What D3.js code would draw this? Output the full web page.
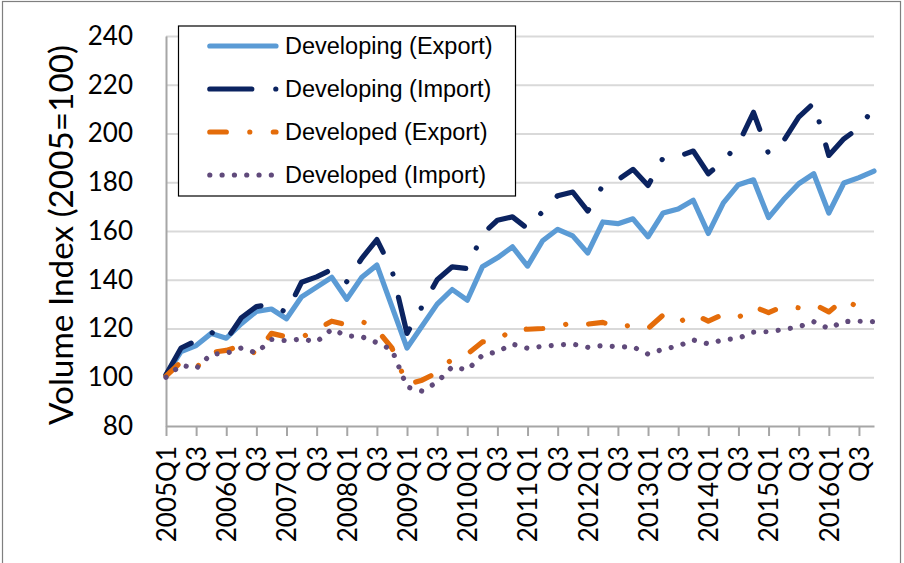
<!DOCTYPE html>
<html>
<head>
<meta charset="utf-8">
<script src="https://cdn.jsdelivr.net/npm/d3@7"></script>
<style>
  body { margin: 0; background: #fff; }
  svg { display: block; }
</style>
</head>
<body>
<div id="chart"></div>
<script>
// quarters on the category axis
var quarters = [
  "2005Q1","2005Q2","2005Q3","2005Q4","2006Q1","2006Q2","2006Q3","2006Q4",
  "2007Q1","2007Q2","2007Q3","2007Q4","2008Q1","2008Q2","2008Q3","2008Q4",
  "2009Q1","2009Q2","2009Q3","2009Q4","2010Q1","2010Q2","2010Q3","2010Q4",
  "2011Q1","2011Q2","2011Q3","2011Q4","2012Q1","2012Q2","2012Q3","2012Q4",
  "2013Q1","2013Q2","2013Q3","2013Q4","2014Q1","2014Q2","2014Q3","2014Q4",
  "2015Q1","2015Q2","2015Q3","2015Q4","2016Q1","2016Q2","2016Q3","2016Q4"
];

// labels shown under every second tick
var tickLabels = [
  "2005Q1","Q3","2006Q1","Q3","2007Q1","Q3","2008Q1","Q3",
  "2009Q1","Q3","2010Q1","Q3","2011Q1","Q3","2012Q1","Q3",
  "2013Q1","Q3","2014Q1","Q3","2015Q1","Q3","2016Q1","Q3"
];

var yTicks = [80, 100, 120, 140, 160, 180, 200, 220, 240];

var developingExport = [101, 110.5, 113, 118, 116, 122, 127, 128, 124, 133, 137, 141,
  132, 141, 146, 129, 112, 121, 130, 136, 131.6, 145.3, 149, 153.5,
  145.6, 156, 160.7, 158, 151, 163.7, 163, 165, 157.6, 167.4, 169, 172.6,
  159, 171.5, 179, 181, 165.5, 172.9, 179.4, 183.5, 167.4, 179.7, 181.9, 184.6];

var developingImport = [101, 112, 115, 118.5, 115.3, 124.4, 129, 130, 126.5, 139, 141.2, 144.2,
  139.2, 148.8, 156.5, 144, 118, 129, 140, 145.3, 144.6, 158.7, 164.4, 165.8,
  161, 168, 174.5, 176, 168.2, 178.7, 181, 185.3, 178.7, 190, 190.6, 192.8,
  183.5, 188.7, 195.8, 208.7, 191.7, 197, 206.7, 212.5, 191, 197.8, 202.3, 210.5];

var developedExport = [100.5, 106.3, 103.9, 110.2, 111, 113, 109.5, 118, 116.6, 116.4, 119.5, 123,
  121.5, 123, 119.5, 112, 97, 98.8, 101.9, 107.5, 109.5, 114.5, 115, 119.8,
  119.7, 120, 120.5, 122.7, 121.8, 122.5, 120.3, 121.6, 120, 125.5, 122.3, 126,
  123, 125.8, 124.5, 129, 126.5, 129.2, 128.5, 130, 126.8, 132, 128.5, 128.5];

var developedImport = [100, 105, 103.6, 109.5, 109.8, 112, 110, 115.5, 115, 115.7, 114.5, 119.7,
  117, 116.6, 114.2, 111.3, 96, 94.3, 98, 104.3, 103, 109, 110.5, 113.6,
  111.9, 112.7, 113.2, 113.6, 112.3, 113, 112.5, 112.5, 109.5, 111.5, 112.8, 115.3,
  113.7, 115.4, 116, 118.5, 118.7, 119.6, 120.7, 122.8, 120, 122.9, 123, 122.8];

var seriesNames = ["Developing (Export)", "Developing (Import)", "Developed (Export)", "Developed (Import)"];

function makeChart() {

  var svgWidth = 904;
  var svgHeight = 563;

  var margin = { top: 36, right: 30, bottom: 137, left: 166 };
  var width = svgWidth - margin.left - margin.right;
  var height = svgHeight - margin.top - margin.bottom;

  var svg = d3.select("#chart")
    .append("svg")
    .attr("width", svgWidth)
    .attr("height", svgHeight);

  // outer chart frame
  svg.append("rect")
    .attr("x", 2.5)
    .attr("y", 1.5)
    .attr("width", 898)
    .attr("height", 580)
    .attr("fill", "#fff")
    .attr("stroke", "#7f7f7f")
    .attr("stroke-width", 1.2);

  var chartGroup = svg.append("g")
    .attr("transform", `translate(${margin.left}, ${margin.top})`);

  var xScale = d3.scalePoint()
    .domain(quarters)
    .range([0, width]);

  var yScale = d3.scaleLinear()
    .domain([80, 240])
    .range([height, 0]);

  // gridlines
  chartGroup.append("g")
    .attr("class", "grid")
    .call(d3.axisLeft(yScale).tickValues(yTicks.slice(1)).tickSize(-width).tickFormat(""))
    .call(g => g.select(".domain").remove())
    .call(g => g.selectAll("line").attr("stroke", "#d9d9d9").attr("stroke-width", 2));

  // y axis
  chartGroup.append("g")
    .call(d3.axisLeft(yScale).tickValues(yTicks).tickSize(0).tickSizeOuter(0).tickPadding(33))
    .call(g => g.select(".domain").attr("stroke", "#a6a6a6").attr("stroke-width", 2))
    .call(g => g.selectAll("text")
      .attr("font-family", "Lato, 'Open Sans', sans-serif")
      .attr("font-size", "26px")
      .attr("fill", "#000"));

  // x axis, a tick every second quarter
  var tickQuarters = quarters.filter((q, i) => i % 2 === 0);
  chartGroup.append("g")
    .attr("transform", `translate(0, ${height})`)
    .call(d3.axisBottom(xScale).tickValues(tickQuarters).tickSize(10).tickSizeOuter(0)
      .tickFormat((d, i) => tickLabels[i]))
    .call(g => g.select(".domain").attr("stroke", "#a6a6a6").attr("stroke-width", 2))
    .call(g => g.selectAll(".tick line").attr("stroke", "#a6a6a6").attr("stroke-width", 2))
    .call(g => g.selectAll("text")
      .attr("transform", "rotate(-90)")
      .attr("x", -20)
      .attr("y", 0)
      .attr("dy", "0.36em")
      .style("text-anchor", "end")
      .attr("font-family", "Lato, 'Open Sans', sans-serif")
      .attr("font-size", "26px")
      .attr("fill", "#000"));

  // y axis title, sized to span the same length as the original
  var yTitle = svg.append("text")
    .attr("transform", "translate(73, 235) rotate(-90)")
    .attr("text-anchor", "middle")
    .attr("font-family", "Lato, 'Open Sans', sans-serif")
    .attr("font-size", "33px")
    .attr("fill", "#000")
    .text("Volume Index (2005=100)");
  var titleLen = yTitle.node().getComputedTextLength();
  yTitle.attr("font-size", (33 * 380 / titleLen) + "px");

  var styles = [
    { color: "#5b9bd5", dash: null },
    { color: "#0b2360", dash: "42,24,0.01,24" },
    { color: "#e46c0a", dash: "16.5,23.5,0.01,23.5" },
    { color: "#604a7b", dash: "0.01,12.3" }
  ];
  var allSeries = [developingExport, developingImport, developedExport, developedImport];

  var line = d3.line()
    .x((d, i) => xScale(quarters[i]))
    .y(d => yScale(d));

  allSeries.forEach(function(values, k) {
    chartGroup.append("path")
      .datum(values)
      .attr("d", line)
      .attr("fill", "none")
      .attr("stroke", styles[k].color)
      .attr("stroke-width", 5.2)
      .attr("stroke-linecap", "round")
      .attr("stroke-linejoin", "round")
      .attr("stroke-dasharray", styles[k].dash);
  });

  // legend box
  var legend = svg.append("g");
  legend.append("rect")
    .attr("x", 178.5)
    .attr("y", 26)
    .attr("width", 337)
    .attr("height", 170)
    .attr("fill", "#fff")
    .attr("stroke", "#000")
    .attr("stroke-width", 1.2);

  var rowY = [46, 89, 132, 175];
  seriesNames.forEach(function(name, k) {
    legend.append("line")
      .attr("x1", 209.8)
      .attr("x2", 276)
      .attr("y1", rowY[k])
      .attr("y2", rowY[k])
      .attr("stroke", styles[k].color)
      .attr("stroke-width", 5.2)
      .attr("stroke-linecap", "round")
      .attr("stroke-dasharray", styles[k].dash);

    legend.append("text")
      .attr("x", 285)
      .attr("y", rowY[k])
      .attr("dy", "0.36em")
      .attr("font-family", "'Liberation Sans', Arial, sans-serif")
      .attr("font-size", "23.5px")
      .attr("fill", "#000")
      .text(name);
  });
}

makeChart();
</script>
</body>
</html>
